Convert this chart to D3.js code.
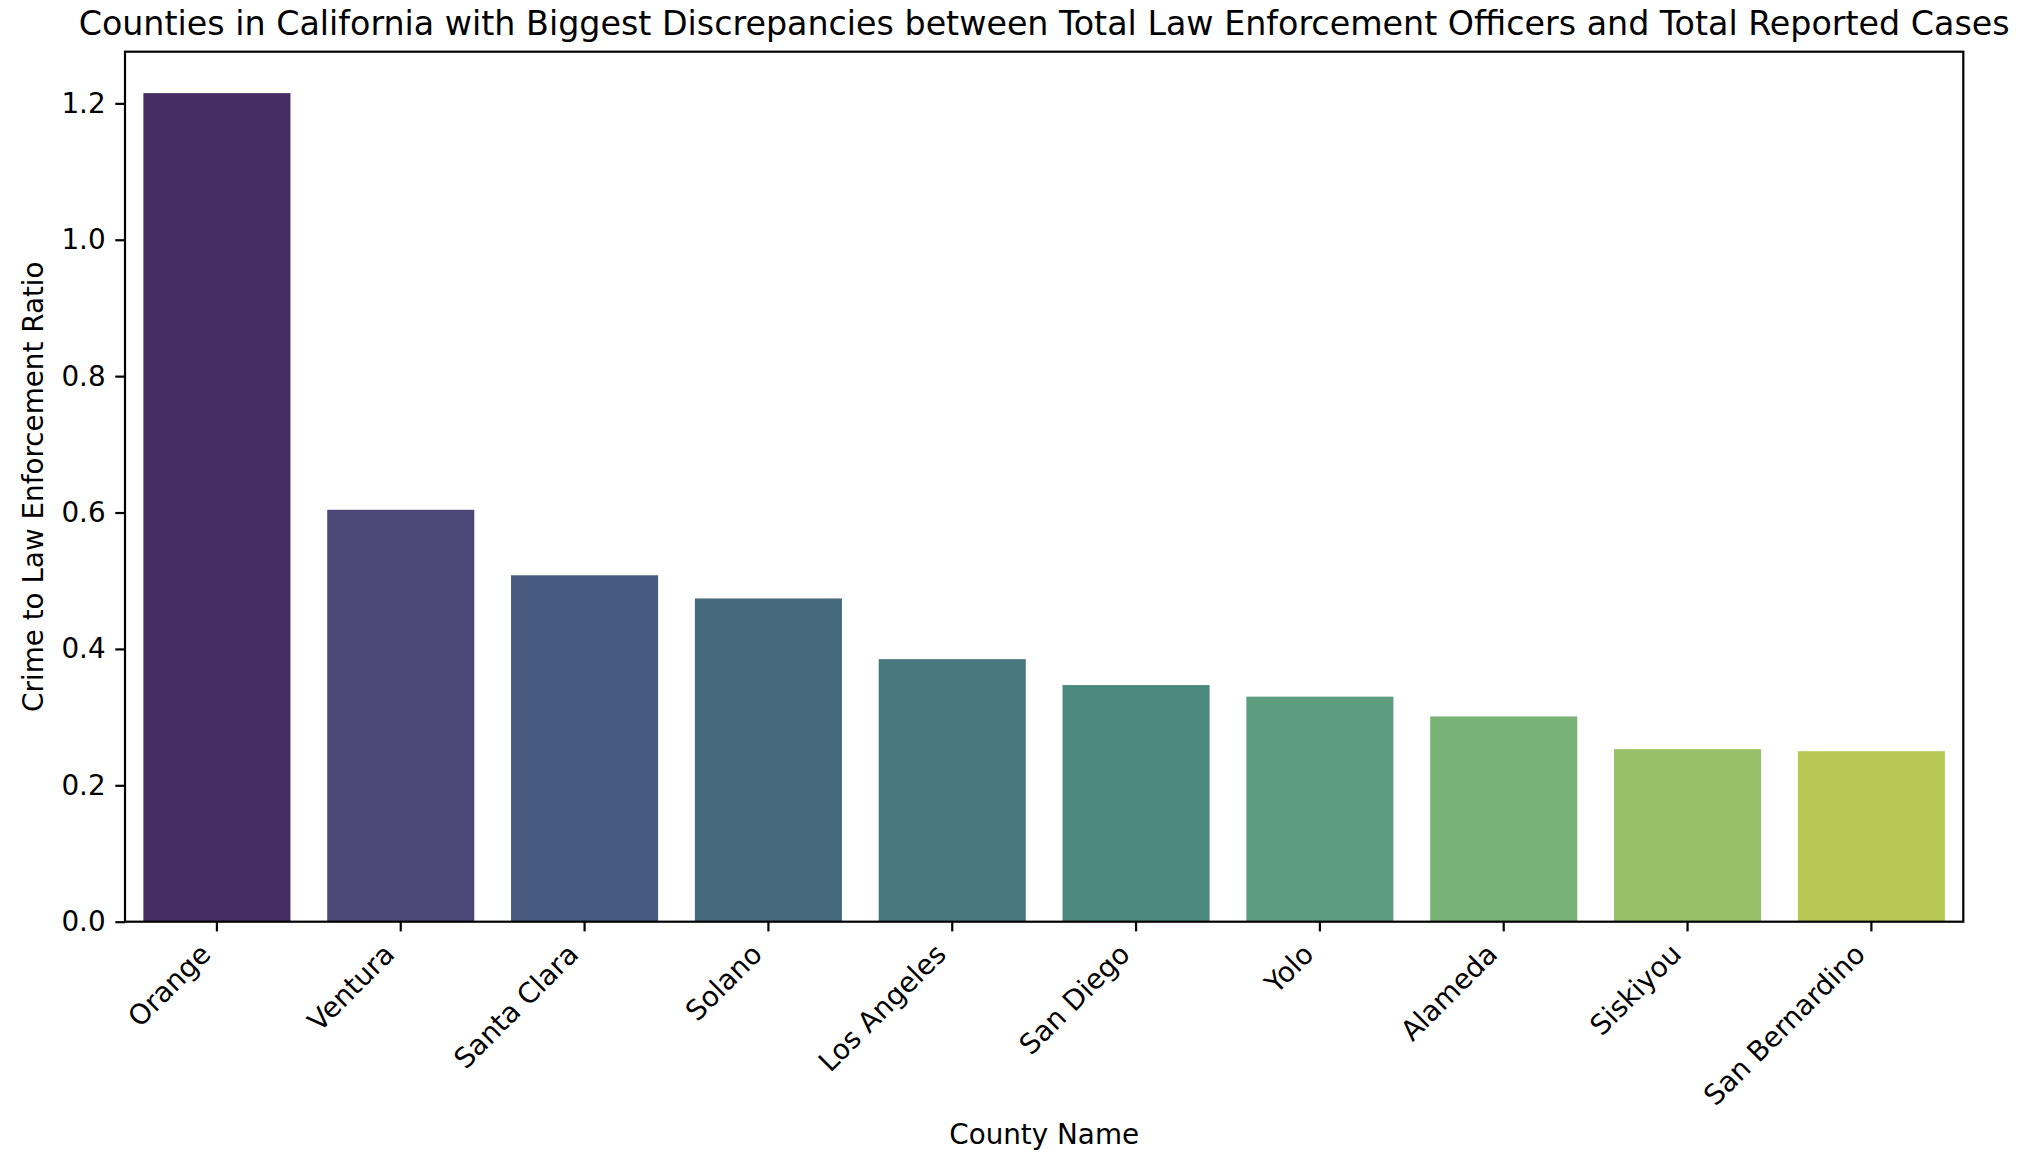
<!DOCTYPE html>
<html>
<head>
<meta charset="utf-8">
<script src="https://cdn.jsdelivr.net/npm/d3@7"></script>
<style>
  body { margin: 0; background: #fff; }
  text { font-family: 'DejaVu Sans', sans-serif; fill: #000; }
</style>
</head>
<body>
<div id="chart"></div>
<script>
// data
const counties = ['Orange', 'Ventura', 'Santa Clara', 'Solano', 'Los Angeles',
  'San Diego', 'Yolo', 'Alameda', 'Siskiyou', 'San Bernardino']
const ratios = [1.215, 0.604, 0.508, 0.474, 0.385, 0.347, 0.330, 0.301, 0.253, 0.250]
const yTicks = [0.0, 0.2, 0.4, 0.6, 0.8, 1.0, 1.2]

// muted viridis palette as it appears in the reference
const barColors = ['#462e64', '#4b4877', '#475a80', '#466a7d', '#48797e',
  '#4a897c', '#5b9d7c', '#78b276', '#96c168', '#b8c855']

const width = 2034
const height = 1172
const margin = { top: 51.7, right: 2034 - 1963.3, bottom: 1172 - 921.7, left: 125 }
const tickLen = 9.7
const tickPad = 9.7
const fontTick = 27.8

let svg = d3.select('#chart').append('svg')
  .attr('width', width)
  .attr('height', height)

let x = d3.scaleBand()
  .domain(counties)
  .range([margin.left, width - margin.right])
  .paddingInner(0.2)
  .paddingOuter(0.1)

let yMax = d3.max(ratios) * 1.05
let y = d3.scaleLinear()
  .domain([0, yMax])
  .range([height - margin.bottom, margin.top])

let color = d3.scaleOrdinal()
  .domain(counties)
  .range(barColors)

svg.append('g')
  .selectAll('rect')
  .data(ratios)
  .enter()
  .append('rect')
  .attr('x', (d, i) => x(counties[i]))
  .attr('y', (d) => y(d))
  .attr('width', x.bandwidth())
  .attr('height', (d) => y(0) - y(d))
  .attr('fill', (d, i) => color(counties[i]))

// y axis
let yAxis = svg.append('g')
  .attr('transform', 'translate(' + margin.left + ',0)')
  .call(d3.axisLeft(y).tickValues(yTicks).tickFormat(d3.format('.1f'))
    .tickSize(tickLen).tickPadding(tickPad))
yAxis.select('.domain').remove()
yAxis.selectAll('line').attr('stroke', '#000').attr('stroke-width', 2.2)
yAxis.selectAll('text')
  .style('font-family', "'DejaVu Sans', sans-serif")
  .style('font-size', fontTick + 'px')
  .attr('fill', '#000')

// x axis
let xAxis = svg.append('g')
  .attr('transform', 'translate(0,' + (height - margin.bottom) + ')')
  .call(d3.axisBottom(x).tickSize(tickLen).tickPadding(tickPad))
xAxis.select('.domain').remove()
xAxis.selectAll('line').attr('stroke', '#000').attr('stroke-width', 2.2)
xAxis.selectAll('text')
  .style('font-family', "'DejaVu Sans', sans-serif")
  .style('font-size', fontTick + 'px')
  .attr('fill', '#000')
  .attr('dy', null)
  .attr('y', null)
  .attr('text-anchor', 'end')
  .attr('transform', 'translate(-4.6,' + (tickLen + tickPad + 14.8) + ') rotate(-45)')

// frame
svg.append('rect')
  .attr('x', margin.left)
  .attr('y', margin.top)
  .attr('width', width - margin.left - margin.right)
  .attr('height', height - margin.top - margin.bottom)
  .attr('fill', 'none')
  .attr('stroke', '#000')
  .attr('stroke-width', 2.2)

// labels
let cx = (margin.left + width - margin.right) / 2
svg.append('text')
  .attr('x', cx)
  .attr('y', 35)
  .attr('text-anchor', 'middle')
  .style('font-size', '33.3px')
  .text('Counties in California with Biggest Discrepancies between Total Law Enforcement Officers and Total Reported Cases')

svg.append('text')
  .attr('x', cx)
  .attr('y', 1144)
  .attr('text-anchor', 'middle')
  .style('font-size', fontTick + 'px')
  .text('County Name')

svg.append('text')
  .attr('transform', 'translate(43,' + ((margin.top + height - margin.bottom) / 2) + ') rotate(-90)')
  .attr('text-anchor', 'middle')
  .style('font-size', fontTick + 'px')
  .text('Crime to Law Enforcement Ratio')
</script>
</body>
</html>
